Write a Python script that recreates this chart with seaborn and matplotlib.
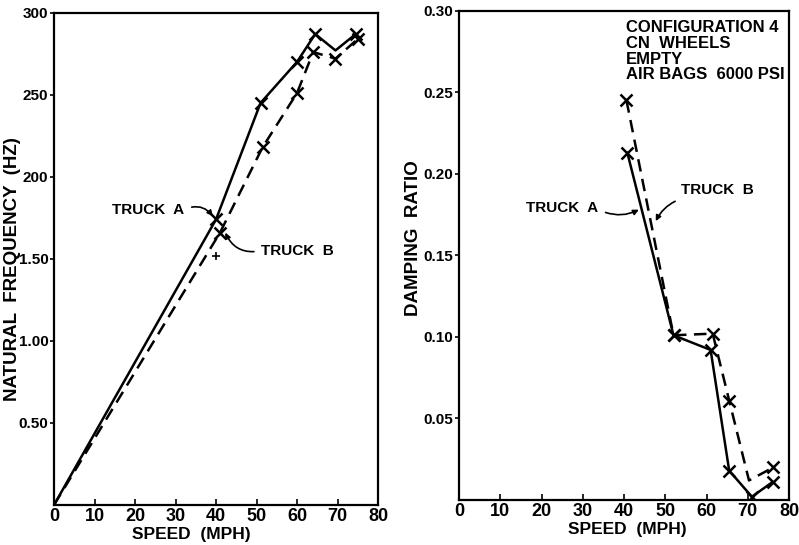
import matplotlib
matplotlib.use("Agg")
import matplotlib.pyplot as plt
import seaborn as sns
import pandas as pd

# ---------------- data ----------------
# Left panel: natural frequency (Hz) vs speed (mph)
freq_a_speed = [0, 40, 51, 60, 64.5, 69.5, 74.5]
freq_a_value = [0, 1.74, 2.45, 2.70, 2.87, 2.77, 2.87]
freq_b_speed = [0, 41, 51.5, 60, 64, 69.5, 75]
freq_b_value = [0, 1.66, 2.18, 2.51, 2.76, 2.72, 2.84]
stray_speed = [40]
stray_value = [1.52]

# Right panel: damping ratio vs speed (mph)
damp_a_speed = [40.8, 52, 61, 65.5, 71, 76]
damp_a_value = [0.213, 0.101, 0.092, 0.018, 0.002, 0.011]
damp_b_speed = [40.6, 52, 61.5, 65.5, 70.3, 76.2]
damp_b_value = [0.245, 0.101, 0.102, 0.061, 0.012, 0.020]

speed_ticks = [0, 10, 20, 30, 40, 50, 60, 70, 80]
speed_tick_labels = ["0", "10", "20", "30", "40", "50", "60", "70", "80"]
freq_ticks = [0.5, 1.0, 1.5, 2.0, 2.5, 3.0]
freq_tick_labels = ["0.50", "1.00", "1.50", "200", "250", "300"]
damp_ticks = [0.05, 0.10, 0.15, 0.20, 0.25, 0.30]
damp_tick_labels = ["0.05", "0.10", "0.15", "0.20", "0.25", "0.30"]

config_text = "CONFIGURATION 4\nCN  WHEELS\nEMPTY\nAIR BAGS  6000 PSI"

# ---------------- style ----------------
sns.set_style("white")
plt.rcParams["font.family"] = ["Liberation Sans", "DejaVu Sans"]
plt.rcParams["font.weight"] = "bold"
plt.rcParams["text.color"] = "black"
plt.rcParams["axes.labelcolor"] = "black"
plt.rcParams["xtick.color"] = "black"
plt.rcParams["ytick.color"] = "black"

fig = plt.figure(figsize=(7.99, 5.45), dpi=100)
ax1 = fig.add_axes([54 / 799, 1 - 505 / 545, 324 / 799, 492.3 / 545])
ax2 = fig.add_axes([459 / 799, 1 - 500 / 545, 330 / 799, 489.3 / 545])

LW = 1.8
MS = 9
MEW = 1.8
DASH = (5, 3)
mk = dict(marker="x", ms=MS, mew=MEW, mec="black", mfc="black")

fa = pd.DataFrame({"speed": freq_a_speed, "val": freq_a_value})
fb = pd.DataFrame({"speed": freq_b_speed, "val": freq_b_value})
sns.lineplot(data=fa, x="speed", y="val", ax=ax1, color="black", lw=LW,
             markevery=[1, 2, 3, 4, 6], estimator=None, sort=False, **mk)
sns.lineplot(data=fb, x="speed", y="val", ax=ax1, color="black", lw=LW,
             markevery=[1, 2, 3, 4, 5, 6], estimator=None, sort=False, **mk)
ax1.lines[-1].set_dashes(DASH)
sns.scatterplot(x=stray_speed, y=stray_value, ax=ax1, marker="+", color="black",
                s=30, linewidth=1.2)

da = pd.DataFrame({"speed": damp_a_speed, "val": damp_a_value})
db = pd.DataFrame({"speed": damp_b_speed, "val": damp_b_value})
sns.lineplot(data=da, x="speed", y="val", ax=ax2, color="black", lw=LW,
             estimator=None, sort=False, **mk)
sns.lineplot(data=db, x="speed", y="val", ax=ax2, color="black", lw=LW,
             markevery=[0, 1, 2, 3, 5], estimator=None, sort=False, **mk)
ax2.lines[-1].set_dashes(DASH)

for ax in (ax1, ax2):
    ax.set_xlim(0, 80)
    ax.set_xticks(speed_ticks)
    ax.set_xticklabels(speed_tick_labels, fontsize=13, fontweight="bold")
    for s in ax.spines.values():
        s.set_visible(True)
        s.set_color("black")
        s.set_linewidth(1.6)
    ax.tick_params(axis="x", direction="in", length=4, width=1.2, pad=2,
                   colors="black", bottom=True)
    ax.tick_params(axis="y", direction="out", length=3, width=1.2, pad=1,
                   colors="black", left=True)
    ax.set_xlabel("SPEED  (MPH)", fontsize=12.5, fontweight="bold")
    ax.xaxis.label.set_va("center")

ax1.set_ylim(0, 3.0)
ax1.set_yticks(freq_ticks)
ax1.set_yticklabels(freq_tick_labels, fontsize=11, fontweight="bold")
ax1.set_ylabel("NATURAL  FREQUENCY  (HZ)", fontsize=13.5, fontweight="bold")
ax1.yaxis.label.set_va("center")
ax1.yaxis.set_label_coords(-0.127, 0.48)
ax1.xaxis.set_label_coords(0.423, -0.06)

ax2.set_ylim(0, 0.30)
ax2.set_yticks(damp_ticks)
ax2.set_yticklabels(damp_tick_labels, fontsize=11, fontweight="bold")
ax2.set_ylabel("DAMPING  RATIO", fontsize=13.5, fontweight="bold")
ax2.yaxis.label.set_va("center")
ax2.yaxis.set_label_coords(-0.137, 0.535)
ax2.xaxis.set_label_coords(0.509, -0.06)

# annotations (left)
ax1.annotate("TRUCK  A", xy=(39.2, 1.76), xytext=(14.4, 1.80), fontsize=11,
             fontweight="bold", va="center", ha="left",
             arrowprops=dict(arrowstyle="-|>", color="black", lw=1.2,
                             connectionstyle="arc3,rad=-0.4", relpos=(1.0, 0.5),
                             shrinkA=3, shrinkB=0, mutation_scale=8))
ax1.annotate("TRUCK  B", xy=(42.3, 1.66), xytext=(51.2, 1.55), fontsize=11,
             fontweight="bold", va="center", ha="left",
             arrowprops=dict(arrowstyle="-|>", color="black", lw=1.2,
                             connectionstyle="arc3,rad=-0.4", relpos=(0.0, 0.5),
                             shrinkA=3, shrinkB=0, mutation_scale=8))

# annotations (right)
ax2.annotate("TRUCK  A", xy=(43.6, 0.178), xytext=(16.3, 0.179), fontsize=11,
             fontweight="bold", va="center", ha="left",
             arrowprops=dict(arrowstyle="-|>", color="black", lw=1.2,
                             connectionstyle="arc3,rad=0.25", relpos=(1.0, 0.4),
                             shrinkA=3, shrinkB=0, mutation_scale=8))
ax2.annotate("TRUCK  B", xy=(47.7, 0.171), xytext=(53.8, 0.190), fontsize=11,
             fontweight="bold", va="center", ha="left",
             arrowprops=dict(arrowstyle="-|>", color="black", lw=1.2,
                             connectionstyle="arc3,rad=0.25", relpos=(0.1, 0.0),
                             shrinkA=2, shrinkB=0, mutation_scale=8))

ax2.text(40.4, 0.294, config_text, fontsize=12, fontweight="bold",
         va="top", ha="left", linespacing=1.05)

fig.savefig("out.png", dpi=100)
